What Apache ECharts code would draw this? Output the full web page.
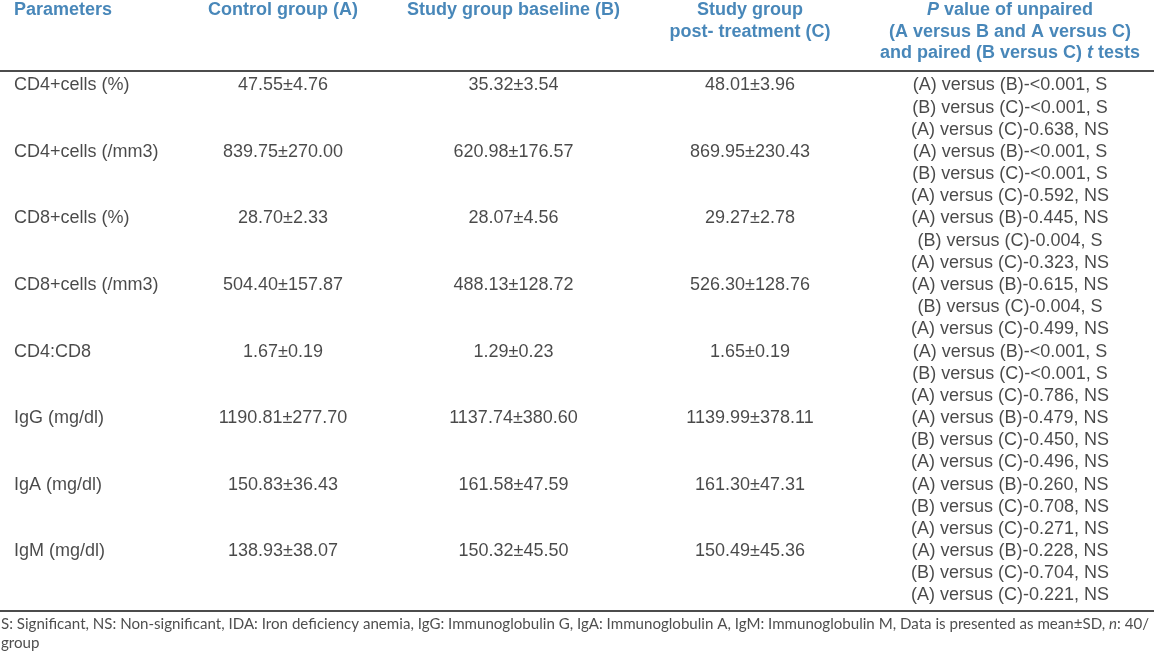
<!DOCTYPE html>
<html>
<head>
<meta charset="utf-8">
<script src="https://cdn.jsdelivr.net/npm/echarts@6/dist/echarts.min.js"></script>
<style>
html,body{margin:0;padding:0;background:#fff;}
#c{width:1154px;height:652px;}
</style>
</head>
<body>
<div id="c"></div>
<script>
// ---- data ----
const parameters = ['CD4+cells (%)', 'CD4+cells (/mm3)', 'CD8+cells (%)', 'CD8+cells (/mm3)', 'CD4:CD8', 'IgG (mg/dl)', 'IgA (mg/dl)', 'IgM (mg/dl)'];
const controlA = ['47.55±4.76', '839.75±270.00', '28.70±2.33', '504.40±157.87', '1.67±0.19', '1190.81±277.70', '150.83±36.43', '138.93±38.07'];
const studyB = ['35.32±3.54', '620.98±176.57', '28.07±4.56', '488.13±128.72', '1.29±0.23', '1137.74±380.60', '161.58±47.59', '150.32±45.50'];
const studyC = ['48.01±3.96', '869.95±230.43', '29.27±2.78', '526.30±128.76', '1.65±0.19', '1139.99±378.11', '161.30±47.31', '150.49±45.36'];
const pAB = ['<0.001, S', '<0.001, S', '0.445, NS', '0.615, NS', '<0.001, S', '0.479, NS', '0.260, NS', '0.228, NS'];
const pBC = ['<0.001, S', '<0.001, S', '0.004, S', '0.004, S', '<0.001, S', '0.450, NS', '0.708, NS', '0.704, NS'];
const pAC = ['0.638, NS', '0.592, NS', '0.323, NS', '0.499, NS', '0.786, NS', '0.496, NS', '0.271, NS', '0.221, NS'];
const headerParam = ['Parameters'];
const headerA = ['Control group (A)'];
const headerB = ['Study group baseline (B)'];
const headerC = ['Study group', 'post- treatment (C)'];
const headerP = ['{i|P} value of unpaired', '(A versus B and A versus C)', 'and paired (B versus C) {i|t} tests'];
const footnote = ['S: Significant, NS: Non-significant, IDA: Iron deficiency anemia, IgG: Immunoglobulin G, IgA: Immunoglobulin A, IgM: Immunoglobulin M, Data is presented as mean±SD, {i|n}: 40/', 'group'];

// ---- layout (not data) ----
const LINE0 = 85.5, STEP = 22.17;           // pixel of first body line, line pitch
const toLine = px => (px - LINE0) / STEP;   // layout helper: pixel -> line units
const colX = {param: 14, a: 283, b: 513.5, c: 750, p: 1010};
const linesPerRow = 3;
const headerLines = [toLine(10.5), toLine(32), toLine(53.5)];
const topRule = toLine(70.5), bottomRule = toLine(611);
const footLines = [toLine(624), toLine(643)];

const headerColor = '#1a69a8';
const bodyColor = '#1c1c1c';
const FONT = 'Liberation Sans, Arial, sans-serif';
const FOOTFONT = 'Lato, sans-serif';

function hdr(list, x) {
  return list.map((t, k) => ({value: [x, headerLines[k]], name: t}));
}
const headerData = [
  ...hdr(headerA, colX.a), ...hdr(headerB, colX.b), ...hdr(headerC, colX.c), ...hdr(headerP, colX.p)
];
const headerLeftData = hdr(headerParam, colX.param);

const paramData = parameters.map((t, i) => ({value: [colX.param, i * linesPerRow], name: t}));
const centerData = [];
parameters.forEach((_, i) => {
  centerData.push({value: [colX.a, i * linesPerRow], name: controlA[i]});
  centerData.push({value: [colX.b, i * linesPerRow], name: studyB[i]});
  centerData.push({value: [colX.c, i * linesPerRow], name: studyC[i]});
  centerData.push({value: [colX.p, i * linesPerRow], name: '(A) versus (B)-' + pAB[i]});
  centerData.push({value: [colX.p, i * linesPerRow + 1], name: '(B) versus (C)-' + pBC[i]});
  centerData.push({value: [colX.p, i * linesPerRow + 2], name: '(A) versus (C)-' + pAC[i]});
});
const footData = footnote.map((t, k) => ({value: [1, footLines[k]], name: t}));

function textSeries(data, align, style) {
  return {
    type: 'scatter', data: data, symbolSize: 0, silent: true,
    label: Object.assign({
      show: true, position: 'inside', align: align, verticalAlign: 'middle',
      formatter: p => p.name
    }, style)
  };
}

const headerStyle = {
  fontFamily: FONT, fontSize: 18, fontWeight: 'bold', color: headerColor,
  rich: {i: {fontFamily: FONT, fontSize: 18, fontWeight: 'bold', fontStyle: 'italic', color: headerColor}}
};
const bodyStyle = {fontFamily: FONT, fontSize: 18, color: bodyColor};
const footStyle = {
  fontFamily: FOOTFONT, fontSize: 15.1, color: '#222',
  rich: {i: {fontFamily: FOOTFONT, fontSize: 15.1, fontStyle: 'italic', color: '#222'}}
};

const chart = echarts.init(document.getElementById('c'), null, {renderer: 'canvas'});
chart.setOption({
  animation: false,
  backgroundColor: '#fff',
  grid: {left: 0, right: 0, top: 0, bottom: 0},
  xAxis: {type: 'value', min: 0, max: 1154, show: false},
  yAxis: {type: 'value', inverse: true, min: toLine(0), max: toLine(652), show: false},
  series: [
    Object.assign(textSeries(headerLeftData, 'left', headerStyle), {
      markLine: {
        silent: true, symbol: 'none', label: {show: false},
        lineStyle: {color: '#111', width: 1.5, type: 'solid'},
        data: [{yAxis: topRule}, {yAxis: bottomRule}]
      }
    }),
    textSeries(headerData, 'center', headerStyle),
    textSeries(paramData, 'left', bodyStyle),
    textSeries(centerData, 'center', bodyStyle),
    textSeries(footData, 'left', footStyle)
  ]
});
</script>
</body>
</html>
